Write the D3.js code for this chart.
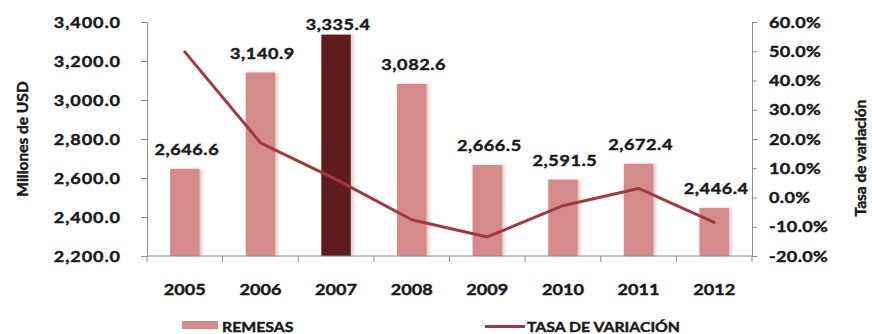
<!DOCTYPE html>
<html>
<head>
<meta charset="utf-8">
<script src="https://cdn.jsdelivr.net/npm/d3@7"></script>
<style>
  html, body { margin: 0; padding: 0; background: #fff; }
  svg { display: block; }
  text { font-family: Lato, "Open Sans", sans-serif; font-weight: 700; fill: #1a1a1a;
         stroke: #1a1a1a; stroke-width: 0.45px; }
</style>
</head>
<body>
<svg id="chart" width="872" height="334"></svg>
<script>
// Remesas (millones de USD) y su tasa de variación anual
const years = ["2005", "2006", "2007", "2008", "2009", "2010", "2011", "2012"];
const remesas = [2646.6, 3140.9, 3335.4, 3082.6, 2666.5, 2591.5, 2672.4, 2446.4];
const tasaVariacion = [49.8, 18.7, 6.2, -7.6, -13.5, -2.8, 3.1, -8.5];
const highlightYear = "2007";
const leftTicks = [2200, 2400, 2600, 2800, 3000, 3200, 3400];
const rightTicks = [-20, -10, 0, 10, 20, 30, 40, 50, 60];
const legendLabels = ["REMESAS", "TASA DE VARIACIÓN"];
const axisTitles = ["Millones de USD", "Tasa de variación"];

const W = 872, H = 334;
const margin = { left: 147, right: 120, top: 22, bottom: 78 };
const plotL = margin.left, plotR = W - margin.right, plotT = margin.top, plotB = H - margin.bottom;

const barColor = "#d68b8b";
const barDark = "#5e1b1b";
const lineColor = "#a13a40";
const axisColor = "#8c8c8c";
const SX = 1.13; // horizontal text widening

const svg = d3.select("#chart");

const defs = svg.append("defs");
const f = defs.append("filter").attr("id", "soft").attr("x", "-30%").attr("y", "-10%").attr("width", "160%").attr("height", "120%");
f.append("feDropShadow").attr("dx", 2.5).attr("dy", 0).attr("stdDeviation", 1.6)
  .attr("flood-color", "#c98080").attr("flood-opacity", 0.45);

const x = d3.scaleBand().domain(years).range([plotL, plotR]).paddingInner(0).paddingOuter(0);
const yL = d3.scaleLinear().domain([2200, 3400]).range([plotB, plotT]);
const yR = d3.scaleLinear().domain([-20, 60]).range([plotB, plotT]);

const barW = x.bandwidth() * 0.39;
const fmtUSD = d3.format(",.1f");

// Bars
svg.append("g").selectAll("rect").data(years).join("rect")
  .attr("x", (d) => x(d) + x.bandwidth() / 2 - barW / 2)
  .attr("width", barW)
  .attr("y", (d, i) => yL(remesas[i]))
  .attr("height", (d, i) => plotB - yL(remesas[i]))
  .attr("fill", (d) => d === highlightYear ? barDark : barColor)
  .attr("filter", "url(#soft)");

// Left axis
const gL = svg.append("g").attr("transform", `translate(${plotL},0)`)
  .call(d3.axisLeft(yL).tickValues(leftTicks).tickFormat(fmtUSD).tickSize(6).tickPadding(17));
gL.select(".domain").attr("stroke", axisColor);
gL.selectAll(".tick line").attr("stroke", axisColor);
gL.selectAll(".tick text").attr("font-size", 16).attr("font-family", null)
  .attr("letter-spacing", 0.8)
  .attr("transform", `scale(${SX},1)`).attr("fill", "#1a1a1a");

// Right axis
const gR = svg.append("g").attr("transform", `translate(${plotR},0)`)
  .call(d3.axisRight(yR).tickValues(rightTicks).tickFormat((d) => d.toFixed(1) + "%").tickSize(5).tickPadding(10));
gR.select(".domain").attr("stroke", axisColor);
gR.selectAll(".tick line").attr("stroke", axisColor);
gR.selectAll(".tick text").attr("font-size", 16).attr("font-family", null)
  .attr("letter-spacing", 0.3)
  .attr("transform", `scale(${SX},1)`).attr("fill", "#1a1a1a");

// Bottom axis: baseline, ticks on category boundaries, year labels
const gB = svg.append("g");
gB.append("line").attr("x1", plotL).attr("x2", plotR).attr("y1", plotB).attr("y2", plotB)
  .attr("stroke", axisColor);
const edges = years.map((d) => x(d)).concat([plotR]);
gB.selectAll("line.tk").data(edges).join("line").attr("class", "tk")
  .attr("x1", (d) => d).attr("x2", (d) => d).attr("y1", plotB).attr("y2", plotB + 6)
  .attr("stroke", axisColor);
gB.selectAll("text").data(years).join("text")
  .attr("transform", (d) => `translate(${x(d) + x.bandwidth() / 2},${plotB + 39}) scale(${SX},1)`)
  .attr("text-anchor", "middle").attr("font-size", 16).text((d) => d);

// Line
const line = d3.line().x((d, i) => x(years[i]) + x.bandwidth() / 2).y((d) => yR(d));
svg.append("path").datum(tasaVariacion).attr("d", line)
  .attr("fill", "none").attr("stroke", lineColor).attr("stroke-width", 3)
  .attr("stroke-linejoin", "round").attr("stroke-linecap", "round");

// Value labels above bars
svg.append("g").selectAll("text").data(years).join("text")
  .attr("transform", (d, i) => {
    const yy = Math.max(yL(remesas[i]) - 14, plotT + 8);
    return `translate(${x(d) + x.bandwidth() / 2 + 2},${yy}) scale(${SX},1)`;
  })
  .attr("text-anchor", "middle").attr("font-size", 16).attr("letter-spacing", 0.5)
  .text((d, i) => fmtUSD(remesas[i]));

// Axis titles
svg.append("text").attr("transform", `translate(28,${(plotT + plotB) / 2}) rotate(-90)`)
  .attr("text-anchor", "middle").attr("font-size", 15.5).text(axisTitles[0]);
svg.append("text").attr("transform", `translate(866,158) rotate(-90)`)
  .attr("text-anchor", "middle").attr("font-size", 15.5).text(axisTitles[1]);

// Legend
const lg = svg.append("g");
lg.append("rect").attr("x", 182).attr("y", 321).attr("width", 36).attr("height", 8).attr("fill", barColor);
lg.append("text").attr("transform", `translate(222,332) scale(${SX},1)`).attr("font-size", 14).text(legendLabels[0]);
lg.append("line").attr("x1", 485).attr("x2", 525).attr("y1", 326.5).attr("y2", 326.5)
  .attr("stroke", lineColor).attr("stroke-width", 3);
lg.append("text").attr("transform", `translate(527,332) scale(${SX},1)`).attr("font-size", 14).text(legendLabels[1]);
</script>
</body>
</html>
